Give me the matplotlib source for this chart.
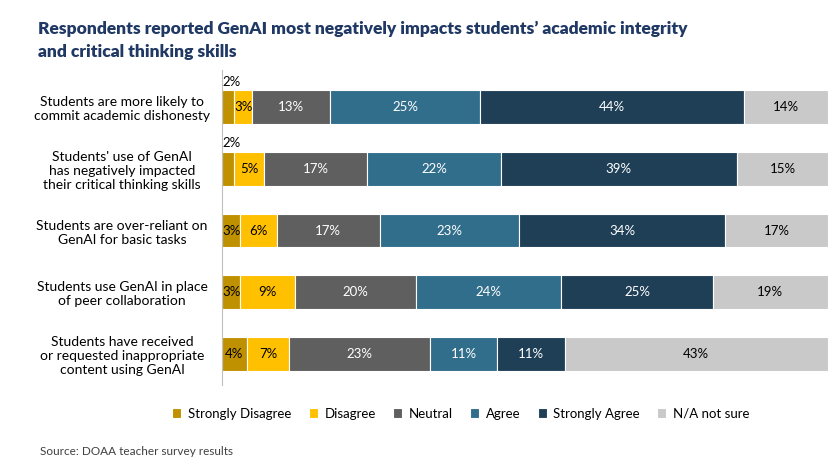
import matplotlib.pyplot as plt
import numpy as np

plt.rcParams['font.family'] = ['Lato', 'DejaVu Sans']

categories = [
    "Students are more likely to\ncommit academic dishonesty",
    "Students' use of GenAI\nhas negatively impacted\ntheir critical thinking skills",
    "Students are over-reliant on\nGenAI for basic tasks",
    "Students use GenAI in place\nof peer collaboration",
    "Students have received\nor requested inappropriate\ncontent using GenAI",
]
series = ["Strongly Disagree", "Disagree", "Neutral", "Agree", "Strongly Agree", "N/A not sure"]
strongly_disagree = [2, 2, 3, 3, 4]
disagree = [3, 5, 6, 9, 7]
neutral = [13, 17, 17, 20, 23]
agree = [25, 22, 23, 24, 11]
strongly_agree = [44, 39, 34, 25, 11]
na_not_sure = [14, 15, 17, 19, 43]

colors = ["#BF9000", "#FFC000", "#5F5F5F", "#316E8C", "#1F3F57", "#C9C9C9"]
text_colors = ["black", "black", "white", "white", "white", "black"]

data = np.array([strongly_disagree, disagree, neutral, agree, strongly_agree, na_not_sure], dtype=float)
totals = data.sum(axis=0)
widths = data / totals * 100

fig = plt.figure(figsize=(8.38, 4.69), dpi=100)
ax = fig.add_axes([0.265, 0.18, 0.723, 0.67])
y = np.arange(len(categories))
left = np.zeros(len(categories))
for i, name in enumerate(series):
    ax.barh(y, widths[i], left=left, height=0.55, color=colors[i], label=name,
            edgecolor="white", linewidth=0.8)
    for j in range(len(categories)):
        cx = left[j] + widths[i][j] / 2
        lab = f"{int(data[i][j])}%"
        if i == 0 and data[i][j] <= 2:
            ax.text(cx + 0.5, y[j] - 0.32, lab, ha="center", va="bottom", fontsize=9.5, color="black")
        else:
            ax.text(cx, y[j], lab, ha="center", va="center", fontsize=9.5, color=text_colors[i])
    left += widths[i]

ax.set_xlim(0, 100)
ax.set_ylim(len(categories) - 0.5, -0.6)
ax.set_yticks(y)
ax.set_yticklabels(categories, fontsize=10, ha="center")
ax.tick_params(axis="y", length=0, pad=72)
ax.set_xticks([])
for s in ["top", "right", "bottom"]:
    ax.spines[s].set_visible(False)
ax.spines["left"].set_color("#BFBFBF")

fig.text(0.045, 0.955, "Respondents reported GenAI most negatively impacts students\u2019 academic integrity\nand critical thinking skills",
         ha="left", va="top", fontsize=12.5, fontweight="heavy", color="#1F3864", linespacing=1.5)
fig.legend(loc="lower center", bbox_to_anchor=(0.55, 0.08), ncol=6, frameon=False, fontsize=9.5,
           handlelength=0.7, handleheight=0.7, columnspacing=1.3, handletextpad=0.5)
fig.text(0.048, 0.03, "Source: DOAA teacher survey results", fontsize=8.5, color="#404040")

fig.savefig("out.png", dpi=100)
